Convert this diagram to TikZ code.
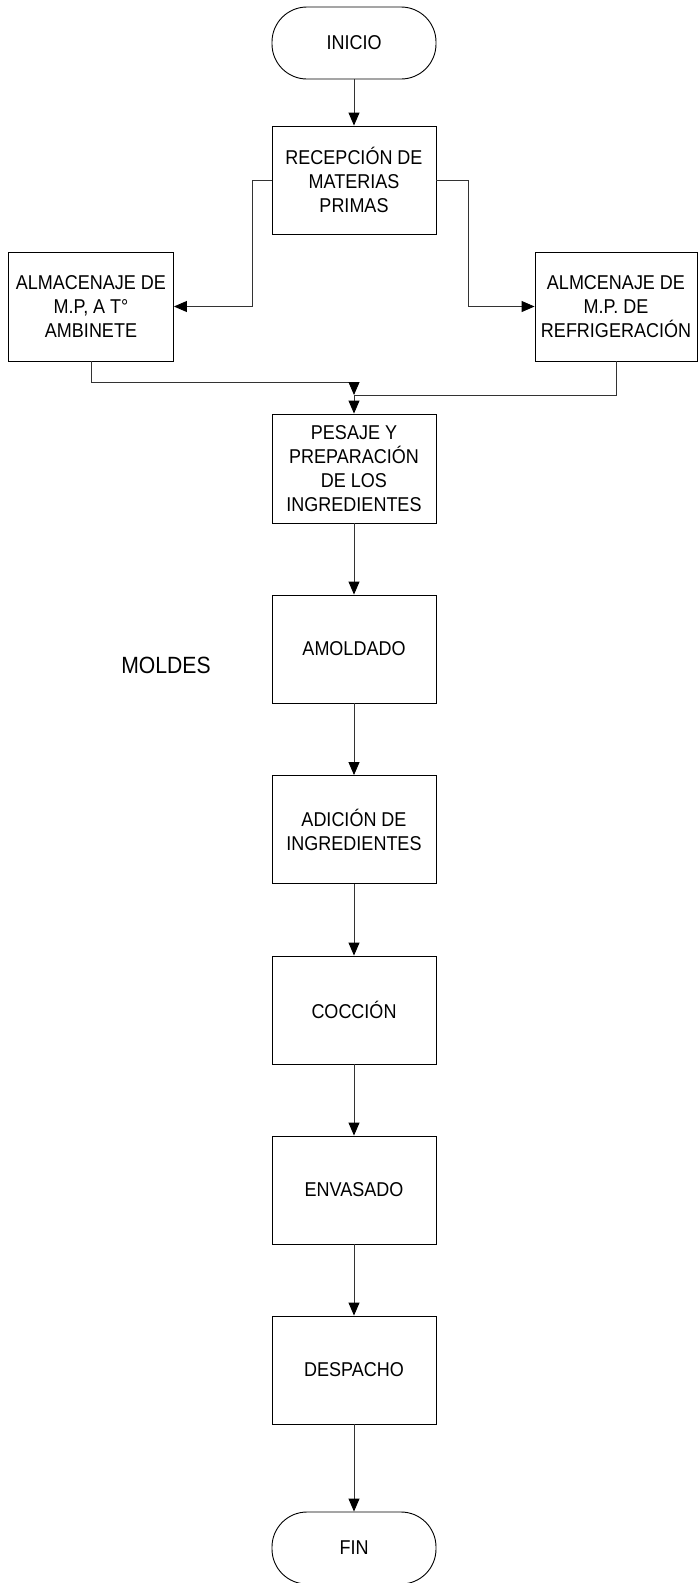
\documentclass[tikz,border=0pt]{standalone}
\usepackage{fontspec}
\setmainfont{Liberation Sans}[FakeStretch=0.9]
\usetikzlibrary{arrows.meta}
\begin{document}
\begin{tikzpicture}[x=1pt,y=-1pt,
  every node/.style={font=\fontsize{20}{24}\selectfont, align=center, inner sep=0pt},
  proc/.style={draw=black, line width=0.9pt, minimum width=164pt, minimum height=108pt},
  term/.style={draw=black, line width=0.9pt, minimum width=164pt, minimum height=72pt, rounded corners=35pt},
  conn/.style={draw=black!80, line width=0.9pt},
  arr/.style={conn, -{Triangle[length=13pt,width=11pt,color=black]}}]
\useasboundingbox (0,0) rectangle (698,1583);
\fill[white] (0,0) rectangle (698,1583);
\node[term] (ini) at (354,43) {INICIO};
\node[proc] (rec) at (354,180) {RECEPCIÓN DE\\MATERIAS\\PRIMAS};
\node[proc, minimum width=165pt, minimum height=109pt] (alm) at (91,306.5) {ALMACENAJE DE\\M.P, A T°\\AMBINETE};
\node[proc, minimum width=162pt, minimum height=109pt] (ref) at (616,306.5) {ALMCENAJE DE\\M.P. DE\\REFRIGERACIÓN};
\node[proc, minimum height=109pt] (pes) at (354,468.5) {PESAJE Y\\PREPARACIÓN\\DE LOS\\INGREDIENTES};
\node[proc] (amo) at (354,649) {AMOLDADO};
\node[font=\fontsize{23.5}{28}\selectfont] (mol) at (166,665) {MOLDES};
\node[proc] (adi) at (354,829.5) {ADICIÓN DE\\INGREDIENTES};
\node[proc] (coc) at (354,1010) {COCCIÓN};
\node[proc] (env) at (354,1190) {ENVASADO};
\node[proc] (des) at (354,1370) {DESPACHO};
\node[term] (fin) at (354,1548) {FIN};
\coordinate (bl) at (252,180);
\coordinate (br) at (468,180);
\coordinate (m1) at (354,382);
\coordinate (m2) at (354,395);
\draw[arr] (ini) -- (rec);
\draw[arr] (rec.west) -- (bl) |- (alm.east);
\draw[arr] (rec.east) -- (br) |- (ref.west);
\draw[conn] (alm.south) |- (m1);
\draw[arr] (m1) -- (m2);
\draw[conn] (ref.south) |- (m2);
\draw[arr] (m2) -- (pes.north);
\draw[arr] (pes) -- (amo);
\draw[arr] (amo) -- (adi);
\draw[arr] (adi) -- (coc);
\draw[arr] (coc) -- (env);
\draw[arr] (env) -- (des);
\draw[arr] (des) -- (fin);
\end{tikzpicture}
\end{document}
